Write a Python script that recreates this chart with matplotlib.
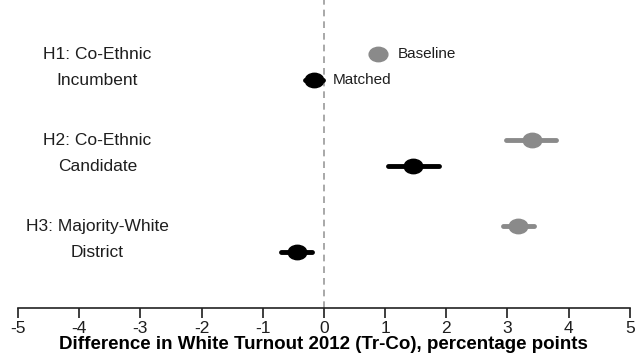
import numpy as np
import matplotlib
matplotlib.use("Agg")
import matplotlib.pyplot as plt
from matplotlib.path import Path
from matplotlib.transforms import Affine2D

plt.rcParams['font.family'] = ['Liberation Sans', 'DejaVu Sans']
plt.rcParams['axes.unicode_minus'] = False

# hypotheses (top to bottom)
hyp_labels = ["H1: Co-Ethnic\nIncumbent", "H2: Co-Ethnic\nCandidate", "H3: Majority-White\nDistrict"]
group_y = [3, 2, 1]

# estimates and 95% intervals
base_est = [0.88, 3.40, 3.17]
base_lo = [0.78, 2.97, 2.92]
base_hi = [0.98, 3.80, 3.43]

match_est = [-0.16, 1.45, -0.44]
match_lo = [-0.31, 1.05, -0.70]
match_hi = [-0.01, 1.88, -0.20]

off = 0.151
grey = '#8a8a8a'
txt = '#1e1e1e'

# slightly wide dot, as in the original
dot = Path.unit_circle().transformed(Affine2D().scale(1.3, 1.0))

fig = plt.figure(figsize=(6.42, 3.57), dpi=100)
ax = fig.add_axes([0.028, 0.137, 0.953, 0.863])

ax.axvline(0, color='#999999', ls=(0, (4, 3)), lw=1.2, zorder=1)

for i, y in enumerate(group_y):
    yb = y + off
    ym = y - off
    ax.plot([base_lo[i], base_hi[i]], [yb, yb], color=grey, lw=3.5, solid_capstyle='round', zorder=2)
    ax.plot(base_est[i], yb, marker=dot, color=grey, ms=13.5, ls='none', zorder=3)
    ax.plot([match_lo[i], match_hi[i]], [ym, ym], color='black', lw=3.5, solid_capstyle='round', zorder=2)
    ax.plot(match_est[i], ym, marker=dot, color='black', ms=13.5, ls='none', zorder=3)
    l1, l2 = hyp_labels[i].split("\n")
    ax.text(-3.70, yb, l1, ha='center', va='center', fontsize=12.5, color=txt)
    ax.text(-3.70, ym, l2, ha='center', va='center', fontsize=12.5, color=txt)

ax.text(base_est[0] + 0.33, group_y[0] + off, "Baseline", ha='left', va='center', fontsize=11, color=txt)
ax.text(match_est[0] + 0.30, group_y[0] - off, "Matched", ha='left', va='center', fontsize=11, color=txt)

ax.set_xlim(-5, 5)
ax.set_ylim(0.198, 3.78)
ax.set_xticks(np.arange(-5, 6, 1))
ax.set_yticks([])
for s in ['top', 'right', 'left']:
    ax.spines[s].set_visible(False)
ax.spines['bottom'].set_linewidth(1.2)
ax.spines['bottom'].set_color('#222222')
ax.tick_params(axis='x', length=7, width=1.2, labelsize=12.5, colors=txt, pad=2)
ax.set_xlabel("Difference in White Turnout 2012 (Tr-Co), percentage points", fontsize=13.5, fontweight='bold', labelpad=0)
ax.patch.set_alpha(0)

fig.savefig("out.png", dpi=100)
